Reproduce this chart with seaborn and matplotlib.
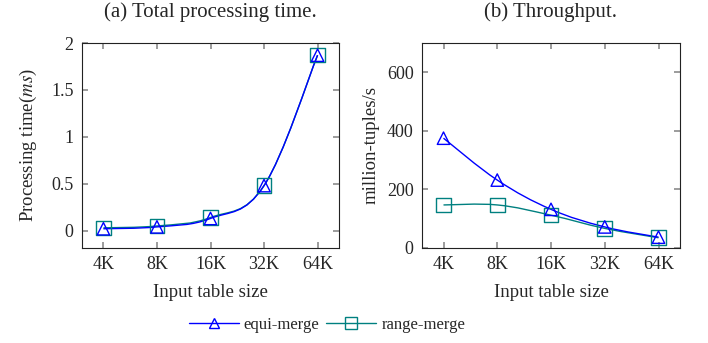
import numpy as np
import pandas as pd
import matplotlib
matplotlib.use("Agg")
import matplotlib.pyplot as plt
from matplotlib.path import Path
from matplotlib.patches import PathPatch
from matplotlib.lines import Line2D
import seaborn as sns

# data
sizes = ["4K", "8K", "16K", "32K", "64K"]
time_equi = [0.02, 0.04, 0.13, 0.48, 1.87]
time_range = [0.03, 0.05, 0.14, 0.48, 1.87]
tput_equi = [375, 232, 132, 72, 37]
tput_range = [147, 147, 112, 67, 35]

BLUE = "#0000ff"
TEAL = "#008080"

sns.set_theme(style="ticks")
plt.rcParams["font.family"] = ["Liberation Serif", "DejaVu Serif"]
plt.rcParams["mathtext.fontset"] = "stix"
plt.rcParams["font.size"] = 13


def smooth_path(ax, xs, ys, color):
    # tikz-like smooth curve: cubic bezier through the points
    pts = np.column_stack([xs, ys]).astype(float)
    n = len(pts)
    t = 0.55 / 3
    verts = [pts[0]]
    codes = [Path.MOVETO]
    for i in range(n - 1):
        p0 = pts[max(i - 1, 0)]
        p1 = pts[i]
        p2 = pts[i + 1]
        p3 = pts[min(i + 2, n - 1)]
        c1 = p1 + t * (p2 - p0)
        c2 = p2 - t * (p3 - p1)
        verts += [c1, c2, p2]
        codes += [Path.CURVE4] * 3
    ax.add_patch(PathPatch(Path(verts, codes), fill=False, edgecolor=color, lw=1.0, zorder=2))


def draw(ax, equi, rng):
    x = np.arange(len(sizes))
    df = pd.DataFrame({"x": np.concatenate([x, x]),
                       "y": equi + rng,
                       "method": ["equi-merge"] * len(x) + ["range-merge"] * len(x)})
    smooth_path(ax, x, rng, TEAL)
    smooth_path(ax, x, equi, BLUE)
    sns.scatterplot(data=df[df.method == "range-merge"], x="x", y="y", ax=ax, marker="s", s=110,
                    facecolor="none", edgecolor=TEAL, linewidth=1.0, zorder=3, legend=False)
    sns.scatterplot(data=df[df.method == "equi-merge"], x="x", y="y", ax=ax, marker="^", s=80,
                    facecolor="none", edgecolor=BLUE, linewidth=1.0, zorder=4, legend=False)
    ax.set_xticks(x)
    ax.set_xticklabels(sizes)
    ax.set_xlim(-0.4, 4.4)
    ax.set_xlabel("Input table size", fontsize=13.5, labelpad=8)
    ax.tick_params(direction="in", top=True, right=True, length=4, color="#909090", labelsize=13, pad=6)
    for s in ax.spines.values():
        s.set_linewidth(0.8)
        s.set_color("#222222")


fig, (ax1, ax2) = plt.subplots(1, 2, figsize=(7.08, 3.43), dpi=100)
ax1.set_position([82 / 708, 1 - 248 / 343, 257 / 708, 205 / 343])
ax2.set_position([422 / 708, 1 - 248 / 343, 258 / 708, 205 / 343])

draw(ax1, time_equi, time_range)
ax1.set_ylim(-0.185, 2)
ax1.set_yticks([0, 0.5, 1, 1.5, 2])
ax1.set_yticklabels(["0", "0.5", "1", "1.5", "2"])
ax1.set_ylabel("Processing time($ms$)", fontsize=13.5, labelpad=9)
ax1.set_title("(a) Total processing time.", fontsize=15, pad=19)

draw(ax2, tput_equi, tput_range)
ax2.set_ylim(0, 700)
ax2.set_yticks([0, 200, 400, 600])
ax2.set_ylabel("million-tuples/s", fontsize=13.5, labelpad=5)
ax2.set_title("(b) Throughput.", fontsize=15, pad=19)

handles = [Line2D([], [], color=BLUE, lw=1.0, marker="^", markersize=6.5, markerfacecolor="none"),
           Line2D([], [], color=TEAL, lw=1.0, marker="s", markersize=8, markerfacecolor="none")]
fig.legend(handles, ["equi-merge", "range-merge"], loc="center", bbox_to_anchor=(327 / 708, 1 - 325 / 343),
           ncol=2, frameon=False, fontsize=12, handlelength=3.0, columnspacing=0.4, handletextpad=0.3)

fig.savefig("out.png", dpi=100)
